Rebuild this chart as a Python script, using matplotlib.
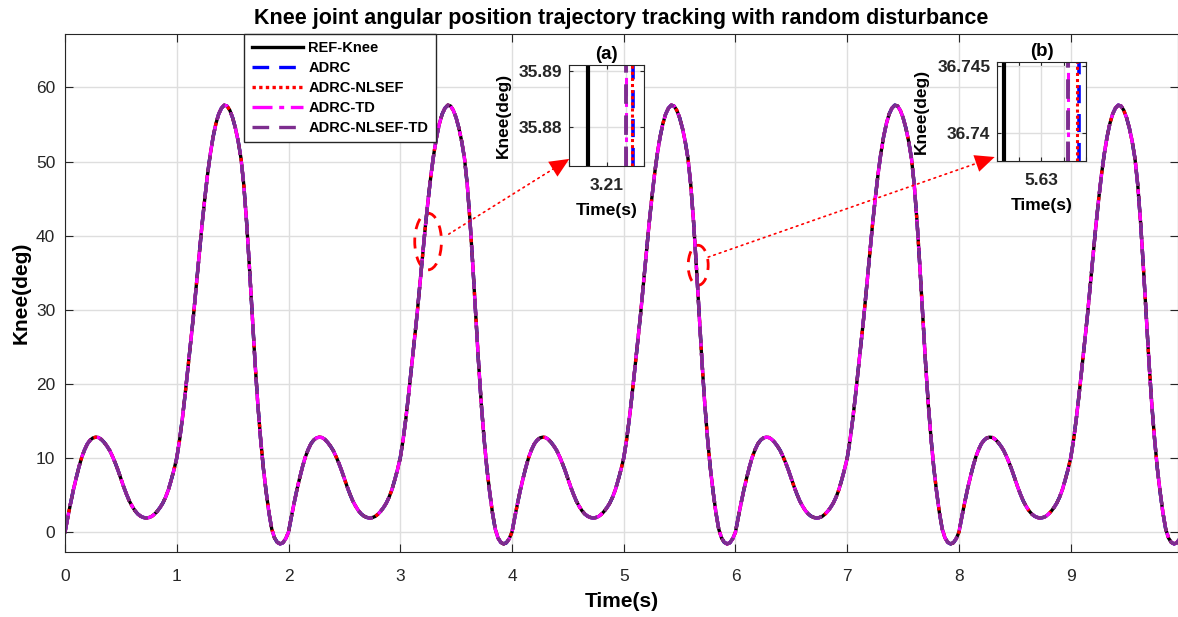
import numpy as np
import matplotlib
matplotlib.use("Agg")
import matplotlib.pyplot as plt
from matplotlib.patches import Ellipse

plt.rcParams['font.family'] = ['Liberation Sans', 'DejaVu Sans']

# one gait cycle (2 s) of the knee reference, every 0.025 s
cycle_time = np.arange(0, 2.0, 0.025)
cycle_knee = [0.0, 2.0, 3.9, 5.7, 7.3, 8.8, 10.1, 11.1, 11.9, 12.4,
              12.7, 12.8, 12.75, 12.5, 12.1, 11.6, 11.0, 10.2, 9.3, 8.3,
              7.2, 6.1, 5.1, 4.2, 3.5, 2.9, 2.45, 2.15, 1.97, 1.9,
              1.95, 2.1, 2.4, 2.8, 3.3, 3.9, 4.7, 5.7, 7.0, 8.4,
              10.0, 12.4, 15.3, 18.6, 22.1, 25.7, 29.3, 33.3, 37.4, 41.3,
              44.9, 48.2, 51.0, 53.3, 55.1, 56.4, 57.2, 57.6, 57.5, 56.9,
              55.9, 54.5, 52.7, 50.4, 46.8, 41.8, 35.8, 29.4, 23.0, 17.3,
              12.6, 8.6, 5.4, 2.6, 0.4, -0.8, -1.4, -1.6, -1.45, -0.9]
n_cycles = 5
time = np.concatenate([cycle_time + 2.0 * k for k in range(n_cycles)] + [[10.0]])
ref_knee = np.concatenate([cycle_knee] * n_cycles + [[0.0]])
# at full scale the controllers lie on top of the reference
adrc = ref_knee
adrc_nlsef = ref_knee
adrc_td = ref_knee
adrc_nlsef_td = ref_knee

names = ['REF-Knee', 'ADRC', 'ADRC-NLSEF', 'ADRC-TD', 'ADRC-NLSEF-TD']
colors = ['black', 'blue', 'red', 'magenta', (0.49, 0.18, 0.56)]
styles = ['-', (0, (5, 3)), (0, (1, 1)), (0, (6, 2, 1.5, 2)), (0, (5, 3))]

# zoomed crossing times in the two insets
zoom_a_time = [3.2090, 3.2114, 3.21133, 3.21102, 3.21104]
zoom_b_time = [5.62832, 5.63171, 5.63162, 5.6312, 5.63121]

fig = plt.figure(figsize=(11.78, 6.17), dpi=100)
ax = fig.add_axes([0.0552, 0.1053, 0.9448, 0.8395])

series = [ref_knee, adrc, adrc_nlsef, adrc_td, adrc_nlsef_td]
for y, name, c, ls in zip(series, names, colors, styles):
    ax.plot(time, y, color=c, linestyle=ls, linewidth=2.4, label=name)

ax.set_xlim(0, 9.96)
ax.set_ylim(-2.7, 67.2)
ax.set_xticks(range(0, 10))
ax.set_yticks(range(0, 61, 10))
ax.grid(True, color=(0.87, 0.87, 0.87), linewidth=1)
ax.tick_params(direction='in', top=True, right=True, length=6,
               labelsize=12.5, colors=(0.15, 0.15, 0.15))
ax.tick_params(axis='x', pad=12)
ax.tick_params(axis='y', pad=7)
for s in ax.spines.values():
    s.set_color((0.15, 0.15, 0.15))
ax.set_xlabel('Time(s)', fontsize=15, fontweight='bold', labelpad=6)
ax.set_ylabel('Knee(deg)', fontsize=15, fontweight='bold', labelpad=4)
ax.set_title('Knee joint angular position trajectory tracking with random disturbance',
             fontsize=15.5, fontweight='bold', pad=7)

leg = ax.legend(loc='upper left', bbox_to_anchor=(0.161, 1.0), borderaxespad=0,
                prop={'weight': 'bold', 'size': 10.5}, handlelength=3.5,
                fancybox=False, framealpha=1, edgecolor=(0.15, 0.15, 0.15),
                borderpad=0.5, labelspacing=0.4, handletextpad=0.4)
leg.get_frame().set_linewidth(1)

# ellipses marking the zoomed spots
ax.add_patch(Ellipse((3.249, 39.2), 0.239, 7.64, fill=False, edgecolor='red',
                     linestyle=(0, (4, 3)), linewidth=2))
ax.add_patch(Ellipse((5.666, 36.0), 0.179, 5.39, fill=False, edgecolor='red',
                     linestyle=(0, (4, 3)), linewidth=2))


def make_inset(rect, xlim, ylim, xticks, xlabels, yticks, ylabels, times, tag):
    ins = fig.add_axes(rect)
    for t, c, ls, lw in zip(times, colors, styles, [3, 2.6, 2.2, 2.2, 2.8]):
        ins.plot([t, t], ylim, color=c, linestyle=ls, linewidth=lw)
    ins.set_xlim(xlim)
    ins.set_ylim(ylim)
    ins.set_xticks(xticks)
    ins.set_xticklabels(xlabels)
    ins.set_yticks(yticks)
    ins.set_yticklabels(ylabels)
    ins.grid(True, color=(0.87, 0.87, 0.87), linewidth=1)
    ins.tick_params(direction='in', top=True, right=True, length=3, labelsize=12.5,
                    colors=(0.15, 0.15, 0.15))
    ins.tick_params(axis='x', pad=9)
    ins.tick_params(axis='y', pad=5)
    for lab in ins.get_xticklabels() + ins.get_yticklabels():
        lab.set_fontweight('bold')
    for s in ins.spines.values():
        s.set_color((0.15, 0.15, 0.15))
    ins.set_xlabel('Time(s)', fontsize=12.5, fontweight='bold', labelpad=7)
    ins.set_ylabel('Knee(deg)', fontsize=12.5, fontweight='bold', labelpad=6)
    ins.set_title(tag, fontsize=13.5, fontweight='bold', pad=4)
    return ins


ins_a = make_inset([0.4833, 0.731, 0.0637, 0.1637], (3.208, 3.212), (35.8729, 35.8911),
                   [3.208, 3.209, 3.21, 3.211, 3.212], ['', '', '3.21', '', ''],
                   [35.88, 35.89], ['35.88', '35.89'], zoom_a_time, '(a)')
ins_b = make_inset([0.8466, 0.7391, 0.0750, 0.1605], (5.628, 5.632), (36.7379, 36.7453),
                   [5.628, 5.629, 5.63, 5.631, 5.632], ['', '', '5.63', '', ''],
                   [36.74, 36.745], ['36.74', '36.745'], zoom_b_time, '(b)')

# dotted arrows from the ellipses to the insets
for ins, start, end in [(ins_a, (3.434, 40.2), (0.0, 0.07)),
                        (ins_b, (5.756, 37.1), (-0.03, 0.04))]:
    ax.annotate('', xy=end, xycoords=ins.transAxes, xytext=start, textcoords='data',
                arrowprops=dict(arrowstyle='-', linestyle=(0, (1, 2.5)), color='red',
                                lw=1.2, shrinkA=0, shrinkB=6),
                annotation_clip=False)
    ax.annotate('', xy=end, xycoords=ins.transAxes, xytext=start, textcoords='data',
                arrowprops=dict(arrowstyle='-|>,head_length=1.0,head_width=0.45',
                                color='red', lw=0, shrinkA=0, shrinkB=0,
                                mutation_scale=14),
                annotation_clip=False)

fig.savefig('out.png', dpi=100)
